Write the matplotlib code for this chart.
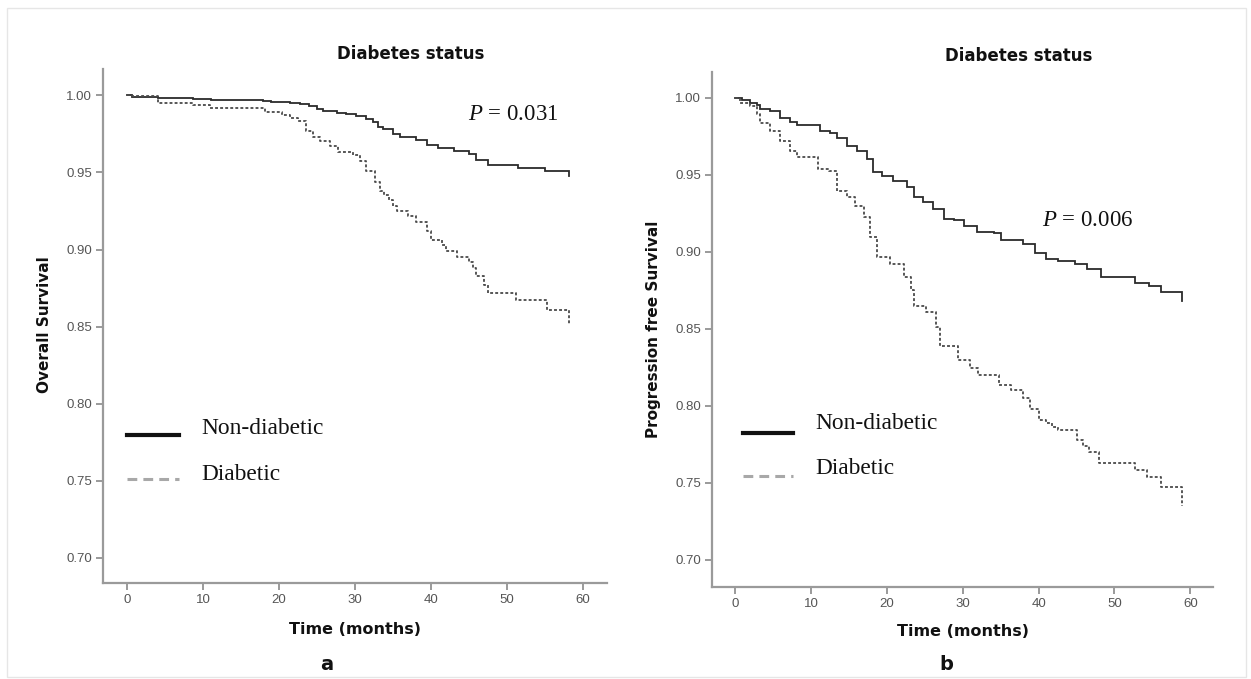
import matplotlib
matplotlib.use("Agg")
import matplotlib.pyplot as plt
from matplotlib.lines import Line2D
from matplotlib.patches import Rectangle

# ---------------- data ----------------
# Panel a: Overall Survival
os_non_t = [0, 0.6, 4.1, 8.7, 11.1, 17.9, 19.0, 21.4, 22.8, 23.9, 25.0, 25.8, 27.6, 28.9, 30.2,
            31.5, 32.4, 33.1, 33.7, 35.0, 36.0, 38.0, 39.5, 41.0, 43.0, 45.0, 46.0, 47.5,
            51.5, 55.0, 58.2, 58.2]
os_non_s = [1.0, 0.999, 0.9985, 0.9978, 0.9972, 0.9963, 0.9957, 0.995, 0.9941, 0.9928, 0.9913,
            0.9898, 0.9887, 0.9876, 0.9867, 0.9848, 0.9826, 0.9793, 0.978, 0.975, 0.973, 0.971,
            0.968, 0.966, 0.964, 0.962, 0.958, 0.955, 0.953, 0.951, 0.951, 0.948]

os_dia_t = [0, 0.6, 4.1, 8.7, 10.9, 17.7, 18.2, 20.4, 21.4, 22.5, 23.6, 24.5, 25.4, 26.7, 27.8,
            29.8, 30.7, 31.5, 32.6, 33.3, 33.9, 34.5, 35.0, 35.5, 37.0, 38.0, 39.5, 40.0, 41.5,
            42.0, 43.5, 45.0, 45.5, 46.0, 47.0, 47.5, 51.2, 55.3, 58.2, 58.2]
os_dia_s = [1.0, 0.9993, 0.9952, 0.9935, 0.992, 0.992, 0.9891, 0.9874, 0.9854, 0.9833, 0.9772,
            0.9733, 0.9707, 0.9674, 0.963, 0.9615, 0.9576, 0.951, 0.9435, 0.938, 0.9354, 0.932,
            0.928, 0.925, 0.922, 0.918, 0.912, 0.906, 0.903, 0.899, 0.895, 0.892, 0.888, 0.883,
            0.877, 0.8715, 0.8675, 0.861, 0.861, 0.852]

# Panel b: Progression free Survival
pfs_non_t = [0, 0.8, 1.9, 2.8, 3.2, 4.6, 5.9, 7.2, 8.1, 10.5, 11.2, 12.5, 13.4, 14.7, 16.0, 17.3,
             18.2, 19.3, 20.8, 22.6, 23.5, 24.8, 26.1, 27.5, 28.8, 30.1, 31.9, 34.1, 35.0, 37.9,
             39.5, 41.0, 42.6, 44.8, 46.4, 48.2, 52.7, 54.6, 56.2, 58.9, 58.9]
pfs_non_s = [1.0, 0.9983, 0.9968, 0.9953, 0.9925, 0.9914, 0.987, 0.9845, 0.9823, 0.9823, 0.9784,
             0.9774, 0.9741, 0.9687, 0.9655, 0.96, 0.9515, 0.9494, 0.9461, 0.9418, 0.9353,
             0.9321, 0.9278, 0.9213, 0.9203, 0.917, 0.9127, 0.912, 0.9078, 0.905, 0.899, 0.8955,
             0.8938, 0.892, 0.889, 0.8834, 0.880, 0.878, 0.8736, 0.8736, 0.868]

pfs_dia_t = [0, 0.6, 1.9, 2.8, 3.2, 4.6, 5.9, 7.2, 8.1, 10.9, 12.3, 13.4, 14.7, 15.8, 16.9, 17.8,
             18.7, 20.4, 22.2, 23.1, 23.5, 25.1, 26.4, 27.0, 29.4, 31.0, 32.0, 34.7, 36.3, 37.9,
             38.9, 40.0, 41.0, 41.8, 42.6, 45.0, 45.8, 46.6, 47.9, 52.7, 54.3, 56.2, 58.9, 58.9]
pfs_dia_s = [1.0, 0.9968, 0.9946, 0.9892, 0.9838, 0.9784, 0.972, 0.9655, 0.9616, 0.9537, 0.9522,
             0.9397, 0.9358, 0.930, 0.9224, 0.9095, 0.8966, 0.8923, 0.8836, 0.875, 0.865, 0.861,
             0.851, 0.8385, 0.830, 0.8244, 0.820, 0.8132, 0.810, 0.8048, 0.7977, 0.7907, 0.789,
             0.7865, 0.7845, 0.778, 0.7739, 0.7697, 0.7626, 0.758, 0.754, 0.747, 0.747, 0.735]

x_ticks = [0, 10, 20, 30, 40, 50, 60]
y_ticks = [0.70, 0.75, 0.80, 0.85, 0.90, 0.95, 1.00]
group_labels = ["Non-diabetic", "Diabetic"]
panel_title = "Diabetes status"
x_label = "Time (months)"
y_labels = ["Overall Survival", "Progression free Survival"]
p_texts = ["0.031", "0.006"]
panel_letters = ["a", "b"]

# ---------------- style ----------------
plt.rcParams['mathtext.fontset'] = 'custom'
plt.rcParams['mathtext.it'] = 'Liberation Serif:italic'
plt.rcParams['mathtext.rm'] = 'Liberation Serif'

W, H = 1251, 679
fig = plt.figure(figsize=(W / 100, H / 100), dpi=100)
fig.patch.set_facecolor('white')


def fx(px):
    return px / W


def fy(py):
    return 1 - py / H


# light frame around the whole picture
fig.add_artist(Rectangle((fx(7), fy(677)), fx(1246) - fx(7), fy(8) - fy(677),
                         transform=fig.transFigure, fill=False, edgecolor='#e6e6e6', lw=1.0))

axes_boxes = [
    (103, 69.3, 607, 582.5),
    (712, 71.5, 1213, 586.8),
]
xlims = [(-3.16, 63.2), (-3.1, 63.0)]
ylims = [(0.684, 1.0169), (0.6825, 1.017)]

series = [
    (os_non_t, os_non_s, os_dia_t, os_dia_s),
    (pfs_non_t, pfs_non_s, pfs_dia_t, pfs_dia_s),
]

spine_col = '#9a9a9a'
tick_lab_col = '#555555'

axes = []
for i, (l, t, r, b) in enumerate(axes_boxes):
    ax = fig.add_axes([fx(l), fy(b), fx(r) - fx(l), fy(t) - fy(b)])
    axes.append(ax)
    nt, ns, dt, ds = series[i]
    ax.step(nt, ns, where='post', color='#2b2b2b', lw=1.3, solid_joinstyle='miter')
    ax.step(dt, ds, where='post', color='#4a4a4a', lw=1.3, linestyle=(0, (1.6, 1.2)))
    ax.set_xlim(*xlims[i])
    ax.set_ylim(*ylims[i])
    ax.set_xticks(x_ticks)
    ax.set_yticks(y_ticks)
    ax.set_yticklabels([f"{v:.2f}" for v in y_ticks])
    for s in ['top', 'right']:
        ax.spines[s].set_visible(False)
    for s in ['left', 'bottom']:
        ax.spines[s].set_color(spine_col)
        ax.spines[s].set_linewidth(1.6)
    ax.tick_params(direction='out', length=5, width=1.4, color=spine_col,
                   labelcolor=tick_lab_col, labelsize=9.5, pad=3)
    for lab in ax.get_xticklabels() + ax.get_yticklabels():
        lab.set_family('Liberation Sans')
    ax.set_facecolor('white')

# titles, labels
fig.text(fx(411), fy(54), panel_title, ha='center', va='center', fontsize=12,
         fontweight='bold', family='DejaVu Sans', color='#111111')
fig.text(fx(1019), fy(56), panel_title, ha='center', va='center', fontsize=12,
         fontweight='bold', family='DejaVu Sans', color='#111111')

fig.text(fx(44.7), fy(325), y_labels[0], ha='center', va='center', rotation=90,
         fontsize=11, fontweight='bold', family='DejaVu Sans', color='#111111')
fig.text(fx(653.4), fy(329), y_labels[1], ha='center', va='center', rotation=90,
         fontsize=11, fontweight='bold', family='DejaVu Sans', color='#111111')

fig.text(fx(355), fy(629), x_label, ha='center', va='center', fontsize=11.5,
         fontweight='bold', family='DejaVu Sans', color='#111111')
fig.text(fx(963), fy(632), x_label, ha='center', va='center', fontsize=11.5,
         fontweight='bold', family='DejaVu Sans', color='#111111')

fig.text(fx(326.5), fy(665), panel_letters[0], ha='center', va='center', fontsize=14,
         fontweight='bold', family='DejaVu Sans', color='#111111')
fig.text(fx(946), fy(665), panel_letters[1], ha='center', va='center', fontsize=14,
         fontweight='bold', family='DejaVu Sans', color='#111111')

# P values
fig.text(fx(467.6), fy(114), r'$P$ = ' + p_texts[0], ha='left', va='center', fontsize=16.5,
         family='Liberation Serif', color='#111111')
fig.text(fx(1042.5), fy(220), r'$P$ = ' + p_texts[1], ha='left', va='center', fontsize=16.5,
         family='Liberation Serif', color='#111111')

# legends (manual)
legend_pos = [
    dict(x0=127, x1=179, y_non=435, y_dia=478.6, tx=201, ty_non=429, ty_dia=474),
    dict(x0=743, x1=793, y_non=433, y_dia=476, tx=815, ty_non=423.6, ty_dia=469),
]
for lp in legend_pos:
    fig.add_artist(Line2D([fx(lp['x0']), fx(lp['x1'])], [fy(lp['y_non'])] * 2,
                          transform=fig.transFigure, color='#111111', lw=3.0))
    fig.add_artist(Line2D([fx(lp['x0']), fx(lp['x1'])], [fy(lp['y_dia'])] * 2,
                          transform=fig.transFigure, color='#a8a8a8', lw=2.2,
                          linestyle=(0, (3.2, 2.0))))
    fig.text(fx(lp['tx']), fy(lp['ty_non']), group_labels[0], ha='left', va='center',
             fontsize=16.8, family='Liberation Serif', color='#111111')
    fig.text(fx(lp['tx']), fy(lp['ty_dia']), group_labels[1], ha='left', va='center',
             fontsize=16.8, family='Liberation Serif', color='#111111')

fig.savefig('out.png', dpi=100, facecolor='white')
